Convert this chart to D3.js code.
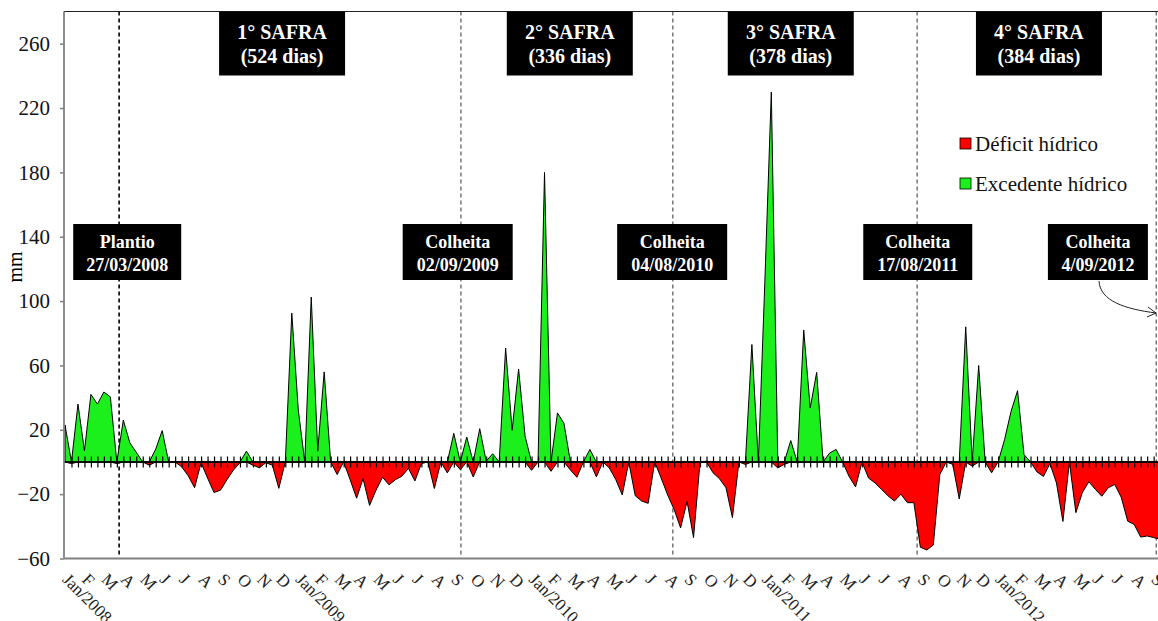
<!DOCTYPE html>
<html>
<head>
<meta charset="utf-8">
<script src="https://cdn.jsdelivr.net/npm/d3@7"></script>
<style>
  body { margin: 0; background: #fff; }
  svg { display: block; }
</style>
</head>
<body>
<svg id="chart" width="1158" height="621"></svg>
<script>
// month labels, one every 3 decendial categories
const monthLabels = [
  "Jan/2008","F","M","A","M","J","J","A","S","O","N","D",
  "Jan/2009","F","M","A","M","J","J","A","S","O","N","D",
  "Jan/2010","F","M","A","M","J","J","A","S","O","N","D",
  "Jan/2011","F","M","A","M","J","J","A","S","O","N","D",
  "Jan/2012","F","M","A","M","J","J","A","S"
];

// decendial water balance (mm), Jan/2008 d1 onwards
const excedente = [
  23,0,36,7,42,36,43.5,40.5,0,26,12,6,
  0,0,8,19.5,0,0,0,0,0,0,0,0,
  0,0,0,0,6.7,0,0,0,0,0,0,92.5,
  32.5,0,102.5,6.7,56,0,0,0,0,0,0,0,
  0,0,0,0,0,0,0,0,0,0,0,0,
  17.8,0,15.5,0,20.7,0.5,5.1,0,70.8,19.7,57.8,16,
  0,0,180,0,30.5,24,0,0,0,7.8,0,0,
  0,0,0,0,0,0,0,0,0,0,0,0,
  0,0,0,0.5,0,0,0,0,0,0,73,0,
  112,230,0,0,13.3,0,82,33.6,55.7,0,5.6,7.8,
  0,0,0,0,0,0,0,0,0,0,0,0,
  0,0,0,0,0,0,0,84,0,60,0,0,
  0,14,31.5,44.3,4.6,0,0,0,0,0,0,0,
  0,0,0,0,0,0,0,0,0,0,0,0,
  0,0
];
const deficit = [
  0,-1,0,0,0,0,0,0,-1,0,0,0,
  0,-2,0,0,0,0,-3,-8.5,-16,-0.5,-10,-19,
  -17.5,-11,-5,-0.5,0,-2,-3.6,-0.5,-2,-16.4,0,0,
  0,0,0,0,0,0,-7.8,0,-11,-22.5,-10.4,-27,
  -17.5,-9.5,-14.2,-11,-8.8,-4,-11.8,-1,0,-16.5,0,-6.8,
  0,-4.8,0,-9.3,0,0,0,0,0,0,0,0,
  -5.2,0,0,-5.8,0,0,-5,-9.5,0,0,-9.2,0,
  -3.7,-11,-20.5,0,-21,-24.3,-25.7,0,-10,-20.5,-29.5,-41,
  -24.5,-47,0,0,-6.7,-10.4,-16,-34.6,0,-1.5,0,0,
  0,0,-3.7,-1.5,0,-0.5,0,0,0,0,0,0,
  0,-9,-15.5,0,-10,-13,-17,-21,-24.3,-20,-25.3,-25.3,
  -53,-54.7,-51.6,-7.8,0,-1.5,-23,0,-2.6,0,0,-6.7,
  0,0,0,0,0,0,-6.2,-9,-1,-13,-37,0,
  -31.5,-19,-12.3,-17,-21.3,-16,-14,-22,-36.8,-38.8,-46.7,-46,
  -47,-48
];

const yTicks = [-60, -20, 20, 60, 100, 140, 180, 220, 260];

// planting / harvest dates as category position
const eventLines = [8.35, 61.1, 93.8, 131.5, 168.4];
const eventTexts = [
  ["Plantio", "27/03/2008"],
  ["Colheita", "02/09/2009"],
  ["Colheita", "04/08/2010"],
  ["Colheita", "17/08/2011"],
  ["Colheita", "4/09/2012"]
];
const safraTexts = [
  ["1° SAFRA", "(524 dias)"],
  ["2° SAFRA", "(336 dias)"],
  ["3° SAFRA", "(378 dias)"],
  ["4° SAFRA", "(384 dias)"]
];
const legendItems = ["Déficit hídrico", "Excedente hídrico"];

// layout
const W = 1158, H = 621;
const plotLeft = 64, plotTop = 11.5, plotBottom = 558.5;
const step = 6.48;
const serif = "'Liberation Serif', 'Times New Roman', serif";
const green = "#1cf01c", red = "#ff0000";
const safraBoxX = [33.5, 77.9, 112, 150.3];
const eventBoxX = [9.6, 60.6, 93.7, 131.6, 159.4];
const eventBoxW = [108, 110, 110, 109, 100];

const svg = d3.select("#chart");

const n = excedente.length;
const x = d3.scaleLinear().domain([0, n - 1]).range([65, 65 + (n - 1) * step]);
const y = d3.scaleLinear().domain([-60, 280]).range([plotBottom, plotTop]);

svg.append("defs").append("clipPath").attr("id", "plot")
  .append("rect").attr("x", plotLeft).attr("y", plotTop)
  .attr("width", W - plotLeft).attr("height", plotBottom - plotTop);

// event dashed lines
svg.append("g").selectAll("line")
  .data(eventLines)
  .join("line")
    .attr("x1", d => x(d)).attr("x2", d => x(d))
    .attr("y1", plotTop).attr("y2", plotBottom - 2)
    .attr("stroke", (d, i) => i === 0 ? "#000" : "#555")
    .attr("stroke-width", (d, i) => i === 0 ? 1.6 : 1.2)
    .attr("stroke-dasharray", "4,3");

// areas
const area = d3.area()
  .x((d, i) => x(i))
  .y0(y(0))
  .y1(d => y(d));

const areas = svg.append("g").attr("clip-path", "url(#plot)");
areas.append("path").datum(deficit)
  .attr("d", area).attr("fill", red).attr("stroke", "#000").attr("stroke-width", 1);
areas.append("path").datum(excedente)
  .attr("d", area).attr("fill", green).attr("stroke", "#000").attr("stroke-width", 1);

// zero line with cross ticks at every category
svg.append("line")
  .attr("x1", plotLeft).attr("x2", W).attr("y1", y(0)).attr("y2", y(0))
  .attr("stroke", "#000").attr("stroke-width", 1.5);
const catAxis = svg.append("g")
  .attr("transform", `translate(0,${y(0) - 5.5})`)
  .call(d3.axisBottom(x).tickValues(d3.range(1, n)).tickSize(11).tickFormat(""));
catAxis.select(".domain").remove();
catAxis.selectAll("line").attr("stroke", "#000").attr("stroke-width", 1.2);

// month labels
const monthAxis = svg.append("g")
  .attr("transform", `translate(0,${plotBottom})`)
  .call(d3.axisBottom(x).tickValues(monthLabels.map((d, i) => i * 3))
    .tickSize(0).tickFormat((d, i) => monthLabels[i]));
monthAxis.select(".domain").remove();
monthAxis.selectAll("text")
  .attr("y", null).attr("dy", null)
  .attr("text-anchor", "start")
  .attr("transform", "translate(-4,22) rotate(45)")
  .attr("font-family", serif).attr("font-size", 17).attr("fill", "#222");

// plot frame: top line, bottom line
svg.append("line").attr("x1", plotLeft).attr("x2", W).attr("y1", plotTop).attr("y2", plotTop)
  .attr("stroke", "#222").attr("stroke-width", 1.2);
svg.append("line").attr("x1", plotLeft).attr("x2", W).attr("y1", plotBottom).attr("y2", plotBottom)
  .attr("stroke", "#808080").attr("stroke-width", 1.8);

// y axis
const yAxis = svg.append("g")
  .attr("transform", `translate(${plotLeft},0)`)
  .call(d3.axisLeft(y).tickValues(yTicks).tickSize(4).tickPadding(10));
yAxis.select(".domain").attr("stroke", "#808080").attr("stroke-width", 1.8)
  .attr("d", `M0,${plotTop}V${plotBottom}`);
yAxis.selectAll(".tick line").attr("stroke", "#808080").attr("stroke-width", 1.5);
yAxis.selectAll("text").attr("font-family", serif).attr("font-size", 21).attr("fill", "#111");

svg.append("text")
  .attr("transform", "translate(22,267) rotate(-90)")
  .attr("text-anchor", "middle")
  .attr("font-family", serif).attr("font-size", 20)
  .text("mm");

// safra boxes
const sg = svg.append("g").selectAll("g").data(safraTexts).join("g")
  .attr("transform", (d, i) => `translate(${x(safraBoxX[i])},0)`);
sg.append("rect").attr("x", -63).attr("y", plotTop).attr("width", 126).attr("height", 64).attr("fill", "#000");
sg.append("text").attr("y", 39).text(d => d[0]);
sg.append("text").attr("y", 63).text(d => d[1]);
sg.selectAll("text").attr("text-anchor", "middle").attr("fill", "#fff")
  .attr("font-family", serif).attr("font-weight", "bold").attr("font-size", 20);

// planting / harvest boxes
const eg = svg.append("g").selectAll("g").data(eventTexts).join("g")
  .attr("transform", (d, i) => `translate(${x(eventBoxX[i])},0)`);
eg.append("rect").attr("x", (d, i) => -eventBoxW[i] / 2).attr("y", 224)
  .attr("width", (d, i) => eventBoxW[i]).attr("height", 56).attr("fill", "#000");
eg.append("text").attr("y", 248).text(d => d[0]);
eg.append("text").attr("y", 271).text(d => d[1]);
eg.selectAll("text").attr("text-anchor", "middle").attr("fill", "#fff")
  .attr("font-family", serif).attr("font-weight", "bold").attr("font-size", 18);

// arrow to last harvest line
svg.append("path")
  .attr("d", "M1099,281 C1100,301 1125,309 1156,313")
  .attr("fill", "none").attr("stroke", "#222").attr("stroke-width", 1);
svg.append("path")
  .attr("d", "M1148,307 L1156,313 L1147,317")
  .attr("fill", "none").attr("stroke", "#222").attr("stroke-width", 1);

// legend
const lg = svg.append("g").selectAll("g").data(legendItems).join("g")
  .attr("transform", (d, i) => `translate(960,${138 + i * 40})`);
lg.append("rect").attr("width", 11).attr("height", 11)
  .attr("fill", (d, i) => i === 0 ? red : green).attr("stroke", "#000").attr("stroke-width", 0.8);
lg.append("text").attr("x", 15).attr("y", 12.5)
  .attr("font-family", serif).attr("font-size", 21).attr("fill", "#111")
  .text(d => d);
</script>
</body>
</html>
